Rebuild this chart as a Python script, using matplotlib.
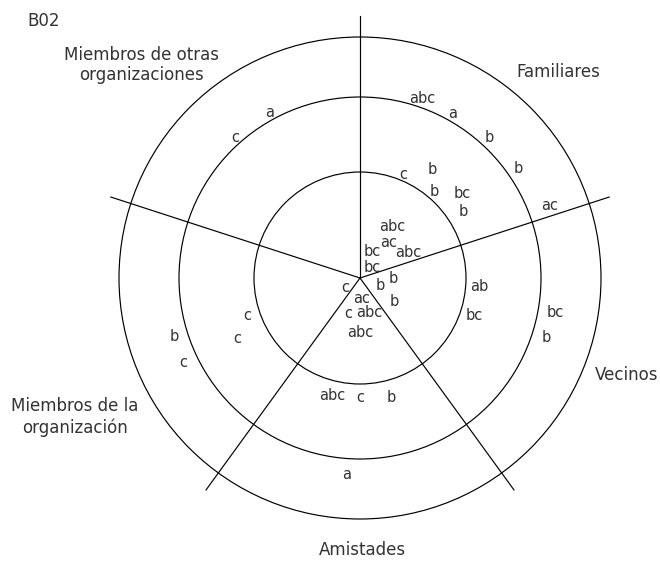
import numpy as np
import matplotlib.pyplot as plt
from matplotlib.patches import Circle

# ring radii (inner = closest relations) and spoke directions of the sociogram
ring_radii = [106, 181, 241]
spoke_angles = [90, 18, 306, 234, 162]
spoke_len = 262

sectors = ['Familiares', 'Vecinos', 'Amistades',
           'Miembros de la\norganización', 'Miembros de otras\norganizaciones']
sector_angles = [46, -20, 270.6, 206, 135.7]
sector_dist = [286, 284, 272, 317, 305]

# each placed member: relation code, angle (deg) and distance from centre
codes = ['c', 'b', 'b', 'bc', 'b', 'abc', 'ac', 'bc', 'abc', 'bc',
         'b', 'b', 'b', 'c', 'ac', 'c', 'abc', 'abc', 'ab', 'bc',
         'abc', 'a', 'b', 'b', 'ac', 'a', 'c', 'c', 'c', 'b',
         'c', 'abc', 'c', 'b', 'a', 'bc', 'b']
angles = [67.5, 56.3, 49.6, 39.5, 33.0, 58.4, 51.3, 65.2, 27.9, 42.5,
          0.0, -20.9, -34.4, 213.7, 275.4, 251.1, 284.4, 270.0, -4.3, -18.4,
          71.0, 60.6, 47.5, 34.6, 21.0, 118.7, 131.6, 198.6, 206.0, 197.6,
          205.6, 256.7, 270.0, 284.6, 266.2, -9.9, -17.8]
dists = [112, 130, 114, 133, 123, 61, 45, 29, 55, 16,
         33, 22, 42, 18, 21, 37, 36, 54, 120, 120,
         190, 189, 191, 192, 203, 189, 188, 119, 137, 195,
         196, 121, 119, 123, 197, 198, 196]

txt_col = '#333333'

fig = plt.figure(figsize=(6.6, 5.61), dpi=100)
ax = fig.add_axes([0, 0, 1, 1])
ax.set_xlim(-360, 300)
ax.set_ylim(-283, 278)
ax.set_aspect('equal')
ax.axis('off')

for r in ring_radii:
    ax.add_patch(Circle((0, 0), r, fill=False, ec='black', lw=0.85))

for a in spoke_angles:
    t = np.deg2rad(a)
    ax.plot([0, spoke_len*np.cos(t)], [0, spoke_len*np.sin(t)], color='black', lw=0.85)

for name, a, d in zip(sectors, sector_angles, sector_dist):
    t = np.deg2rad(a)
    ax.text(d*np.cos(t), d*np.sin(t), name, ha='center', va='center',
            fontsize=12, color=txt_col, linespacing=1.2)

for c, a, d in zip(codes, angles, dists):
    t = np.deg2rad(a)
    ax.text(d*np.cos(t), d*np.sin(t), c, ha='center', va='center',
            fontsize=10.5, color=txt_col)

ax.text(-333, 257, 'B02', ha='left', va='center', fontsize=12, color=txt_col)

plt.savefig('out.png', dpi=100)
